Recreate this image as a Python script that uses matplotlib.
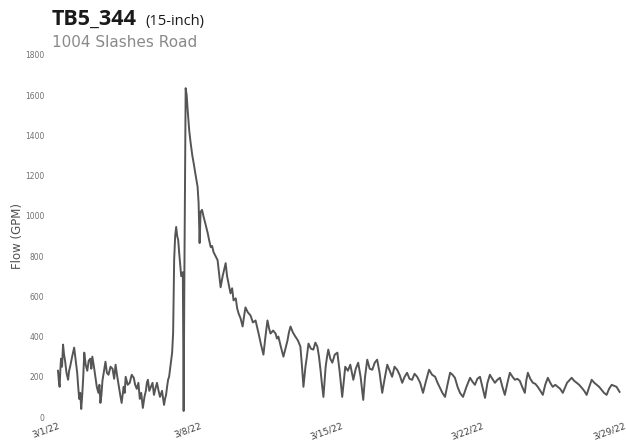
import matplotlib
matplotlib.use("Agg")
from matplotlib import pyplot as plt

# flow readings, days since 3/1/22 00:00 and GPM
days = [0.00, 0.04, 0.08, 0.12, 0.15, 0.20, 0.25, 0.30, 0.35, 0.42, 0.50, 0.55, 0.60,
        0.70, 0.80, 0.88, 0.95, 1.00, 1.05, 1.10, 1.15, 1.20, 1.25, 1.30, 1.37,
        1.45, 1.52, 1.60, 1.65, 1.70, 1.78, 1.85, 1.92, 2.00, 2.05, 2.10, 2.15, 2.20,
        2.28, 2.35, 2.42, 2.50, 2.60, 2.70, 2.78, 2.85, 2.92, 3.00, 3.08, 3.15,
        3.20, 3.25, 3.30, 3.35, 3.45, 3.55, 3.65, 3.75, 3.82, 3.90, 3.98, 4.05, 4.12,
        4.20, 4.28, 4.35, 4.40, 4.45, 4.52, 4.60, 4.68, 4.75, 4.82, 4.90, 4.98, 5.05,
        5.15, 5.25, 5.30, 5.35, 5.40, 5.45, 5.50, 5.55, 5.60, 5.65, 5.70, 5.75, 5.80,
        5.85, 5.90, 5.95, 6.00, 6.05, 6.10, 6.18, 6.22,
        6.26, 6.32, 6.37, 6.42, 6.50, 6.57, 6.65, 6.72, 6.80, 6.91, 6.96, 7.01, 7.06,
        7.13, 7.21, 7.30, 7.41, 7.48, 7.56, 7.63, 7.70, 7.80,
        7.90, 8.05, 8.15, 8.25, 8.30, 8.37, 8.44, 8.54, 8.62, 8.69, 8.80, 8.87, 8.94,
        9.04, 9.14, 9.21, 9.28, 9.40, 9.53, 9.65, 9.78, 9.85, 9.93, 10.05, 10.17,
        10.27, 10.37, 10.45, 10.52, 10.65, 10.77, 10.84, 10.91, 11.03, 11.16, 11.26,
        11.36, 11.43, 11.51, 11.63, 11.75, 11.88, 12.00, 12.08, 12.15, 12.25, 12.32,
        12.40, 12.52, 12.64, 12.74, 12.84, 12.92, 13.00, 13.07, 13.14, 13.25, 13.32,
        13.38, 13.48, 13.58, 13.70, 13.83, 13.95, 14.07, 14.15, 14.22, 14.35, 14.47,
        14.55, 14.62, 14.74, 14.86, 14.98, 15.11, 15.20, 15.31, 15.43, 15.56, 15.68,
        15.80, 15.92, 16.05, 16.17, 16.30, 16.42, 16.54, 16.66, 16.79, 16.91, 17.04,
        17.16, 17.28, 17.40, 17.53, 17.65, 17.78, 17.93, 18.07, 18.22, 18.37, 18.52,
        18.67, 18.79, 18.91, 19.03, 19.16, 19.28, 19.41, 19.53, 19.65, 19.78, 19.90,
        20.05, 20.22, 20.40, 20.52, 20.64, 20.76, 20.89, 21.01, 21.14, 21.26, 21.38,
        21.50, 21.63, 21.75, 21.88, 22.00, 22.12, 22.25, 22.37, 22.50, 22.62, 22.74,
        22.86, 22.98, 23.11, 23.18, 23.26, 23.38, 23.51, 23.63, 23.75, 23.88, 24.00,
        24.12, 24.25, 24.37, 24.49, 24.62, 24.74, 24.86, 24.99, 25.20, 25.43, 25.55,
        25.68, 25.80, 25.93, 26.05, 26.17, 26.30, 26.42, 26.55, 26.67, 26.79, 26.91,
        27.03, 27.16, 27.28, 27.41, 27.53, 27.65, 27.80]
flow = [230, 180, 150, 240, 290, 250, 360, 310, 280, 220, 185, 230, 250,
        300, 345, 280, 220, 150, 90, 120, 40, 110, 200, 320, 260,
        230, 280, 290, 240, 300, 250, 200, 150, 120, 160, 70, 110, 180,
        230, 275, 220, 210, 250, 240, 190, 260, 210, 160, 110, 70,
        110, 150, 120, 200, 160, 170, 210, 195, 160, 140, 170, 90, 120,
        45, 100, 130, 170, 185, 130, 150, 170, 110, 140, 170, 130, 100,
        130, 60, 90, 110, 150, 185, 200, 240, 280, 320, 420, 780, 900,
        945, 900, 880, 815, 760, 700, 720, 30,
        760, 1635, 1600, 1525, 1420, 1360, 1300, 1260, 1210, 1145, 1065, 865, 1020,
        1030, 995, 960, 915, 880, 845, 850, 820, 800,
        780, 645, 700, 745, 765, 700, 665, 615, 640, 580, 590, 540, 515,
        490, 450, 500, 545, 520, 505, 470, 480, 450, 415, 360, 310,
        400, 480, 440, 415, 430, 415, 390, 400, 350, 300, 340,
        380, 420, 450, 420, 400, 380, 350, 250, 150, 250, 300,
        365, 340, 335, 370, 350, 300, 230, 160, 100, 250, 300,
        335, 290, 270, 310, 320, 220, 100, 180, 250, 230, 260,
        220, 185, 240, 270, 200, 85, 200, 285, 240, 235, 270,
        285, 220, 120, 190, 260, 230, 200, 250, 235, 210, 170,
        200, 220, 190, 185, 215, 200, 170, 120, 180, 235, 210,
        200, 170, 145, 120, 100, 160, 220, 210, 195, 150, 120,
        100, 150, 195, 175, 160, 190, 200, 150, 95, 170, 210,
        190, 170, 185, 195, 150, 110, 170, 220, 200, 185, 190,
        180, 150, 120, 180, 220, 190, 170, 165, 150, 130, 110,
        160, 195, 170, 150, 160, 150, 140, 120, 170, 195, 180,
        170, 160, 145, 130, 110, 150, 185, 170, 160, 150, 135,
        120, 110, 140, 160, 155, 150, 125]

tick_days = [0, 7, 14, 21, 28]
tick_labels = ["3/1/22", "3/8/22", "3/15/22", "3/22/22", "3/29/22"]
y_ticks = [0, 200, 400, 600, 800, 1000, 1200, 1400, 1600, 1800]

W, H = 626, 444
fig = plt.figure(figsize=(W / 100, H / 100), dpi=100)
ax = fig.add_axes([50 / W, (H - 417) / H, (W - 50) / W, (417 - 55) / H])

ax.plot(days, flow, color="#555555", lw=1.4)

ax.set_xlim((50 - 58) / 20.2, (W - 58) / 20.2)
ax.set_ylim(0, 1800)
ax.set_yticks(y_ticks)
ax.set_yticklabels([str(v) for v in y_ticks], fontsize=5.5, color="#707070")
ax.set_xticks(tick_days)
ax.set_xticklabels(tick_labels, fontsize=6.5, color="#404040",
                   rotation=20, ha="right", va="top", rotation_mode="anchor")
ax.tick_params(axis="both", length=0)
ax.tick_params(axis="y", pad=4)
ax.tick_params(axis="x", pad=3)
for s in ax.spines.values():
    s.set_visible(False)

ax.set_ylabel("Flow (GPM)", fontsize=8.5, color="#505050", labelpad=1)

fig.text(52 / W, 1 - 25 / H, "TB5_344", fontsize=15.5, fontweight="bold",
         family="Open Sans", color="#1a1a1a", va="baseline")
fig.text(145 / W, 1 - 25 / H, "(15-inch)", fontsize=10.5,
         family="Open Sans", color="#1a1a1a", va="baseline")
fig.text(52 / W, 1 - 47 / H, "1004 Slashes Road", fontsize=11,
         family="DejaVu Sans", color="#8a8a8a", va="baseline")

fig.savefig("out.png", dpi=100)
